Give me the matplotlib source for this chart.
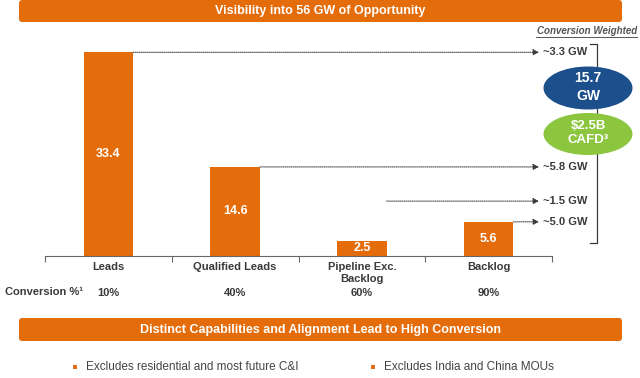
"""
Pipeline conversion chart: visibility into 56 GW of opportunity.
"""

import matplotlib.pyplot as plt
from matplotlib.patches import Ellipse, FancyBboxPatch

plt.rcParams["font.family"] = ["Liberation Sans", "DejaVu Sans"]

categories = ["Leads", "Qualified Leads", "Pipeline Exc.\nBacklog", "Backlog"]
values_gw = [33.4, 14.6, 2.5, 5.6]
conversion = ["10%", "40%", "60%", "90%"]
weighted_labels = ["~3.3 GW", "~5.8 GW", "~1.5 GW", "~5.0 GW"]
bullets = ["Excludes residential and most future C&I", "Excludes India and China MOUs"]

ORANGE = "#E46C0A"
BLUE = "#1D4F8C"
GREEN = "#8CC63F"
GREY = "#3A3A3A"

W, H = 640, 378
fig = plt.figure(figsize=(W / 100, H / 100), dpi=100)

# main bar axes, placed in pixel terms
ax_left, ax_right, ax_top, ax_base = 45, 552, 40, 256
ax = fig.add_axes([ax_left / W, (H - ax_base) / H, (ax_right - ax_left) / W, (ax_base - ax_top) / H])
xs = list(range(len(values_gw)))
ax.bar(xs, values_gw, width=0.39, color=ORANGE, zorder=2)
ax.set_xlim(-0.5, 3.5)
ax.set_ylim(0, (ax_base - ax_top) / 6.1)
for x, v in zip(xs, values_gw):
    ax.text(x, v / 2, f"{v}", ha="center", va="center", color="white",
            fontsize=9, fontweight="bold")
for side in ["top", "right", "left"]:
    ax.spines[side].set_visible(False)
ax.spines["bottom"].set_color("#666666")
ax.spines["bottom"].set_linewidth(0.8)
ax.set_yticks([])
ax.set_xticks([-0.5, 0.5, 1.5, 2.5, 3.5])
ax.set_xticklabels([])
ax.tick_params(axis="x", direction="out", length=4, color="#666666", width=0.8)

# overlay in pixel coordinates for annotations
ov = fig.add_axes([0, 0, 1, 1], zorder=5)
ov.set_xlim(0, W)
ov.set_ylim(H, 0)
ov.axis("off")


def banner(y0, y1, text):
    box = FancyBboxPatch((19, y0), 603, y1 - y0, boxstyle="round,pad=0,rounding_size=3",
                         facecolor=ORANGE, edgecolor="none")
    ov.add_patch(box)
    ov.text(320, (y0 + y1) / 2, text, ha="center", va="center", color="white",
            fontsize=9, fontweight="bold")


banner(0, 22, "Visibility into 56 GW of Opportunity")
banner(318, 341, "Distinct Capabilities and Alignment Lead to High Conversion")

# category labels and conversion rates
for x, cat, conv in zip(xs, categories, conversion):
    px = ax.transData.transform((x, 0))[0]
    ov.text(px, 262, cat, ha="center", va="top", fontsize=8, fontweight="bold",
            color=GREY, linespacing=1.25)
    ov.text(px, 293, conv, ha="center", va="center", fontsize=8, fontweight="bold", color=GREY)
ov.text(5, 292, "Conversion %¹", ha="left", va="center", fontsize=8, fontweight="bold", color=GREY)

# dotted leader lines to the conversion-weighted figures
line_y_data = [values_gw[0], values_gw[1], 9.0, values_gw[3]]
for x, yv, lab in zip(xs, line_y_data, weighted_labels):
    fx, fy = fig.transFigure.inverted().transform(ax.transData.transform((x + 0.195, yv)))
    py = (1 - fy) * H
    px0 = fx * W
    ov.annotate("", xy=(539, py), xytext=(px0, py),
                arrowprops=dict(arrowstyle="-|>,head_length=0.35,head_width=0.18",
                                linestyle=(0, (1, 1)), linewidth=0.7, color=GREY,
                                shrinkA=0, shrinkB=0))
    ov.text(543, py, lab, ha="left", va="center", fontsize=8, fontweight="bold", color=GREY)

# bracket (drawn first so the ellipses sit on top of it)
ov.plot([590, 597, 597, 590], [44, 44, 243, 243], color=GREY, linewidth=0.9, zorder=1)

# ellipses
ov.add_patch(Ellipse((588, 88), 89, 43, facecolor=BLUE, edgecolor="none", zorder=3))
ov.text(588, 87, "15.7\nGW", ha="center", va="center", color="white", fontsize=10,
        fontweight="bold", linespacing=1.3, zorder=4)
ov.add_patch(Ellipse((588, 134), 89, 42, facecolor=GREEN, edgecolor="none", zorder=3))
ov.text(588, 133, "$2.5B\nCAFD³", ha="center", va="center", color="white", fontsize=9.5,
        fontweight="bold", linespacing=1.3, zorder=4)

# header for the right-hand column
ov.text(637, 31, "Conversion Weighted", ha="right", va="center", fontsize=7,
        fontstyle="italic", fontweight="bold", color="#555555")
ov.plot([536, 637], [37, 37], color="#555555", linewidth=0.7)

# footnote bullets
for bx, txt in zip([75, 373], bullets):
    ov.add_patch(plt.Rectangle((bx - 2, 365), 4, 4, facecolor=ORANGE, edgecolor="none"))
    ov.text(bx + 11, 367, txt, ha="left", va="center", fontsize=8.5, color="#444444")

fig.savefig("out.png", dpi=100)
